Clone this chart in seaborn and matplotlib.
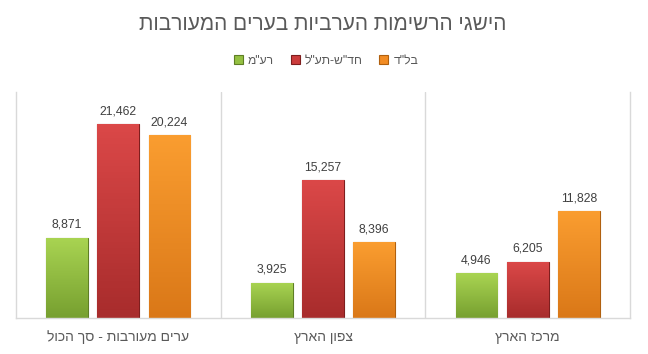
import numpy as np
import pandas as pd
import matplotlib
matplotlib.use("Agg")
import matplotlib.pyplot as plt
import seaborn as sns
from matplotlib.colors import LinearSegmentedColormap
from matplotlib.patches import Patch

# ---- data (logical Hebrew order) ----
title = "הישגי הרשימות הערביות בערים המעורבות"
categories = ["ערים מעורבות - סך הכול", "צפון הארץ", "מרכז הארץ"]
series = ['רע"מ', 'חד"ש-תע"ל', 'בל"ד']
raam = [8871, 3925, 4946]
hadash = [21462, 15257, 6205]
balad = [20224, 8396, 11828]

colors = ["#94C042", "#CC3C3C", "#F28C24"]
tops = ["#A9D452", "#DB4848", "#FA9D30"]
bottoms = ["#77A030", "#A82C2C", "#DA7818"]
edges = ["#5E7E25", "#7E1E1E", "#B0600F"]


def rtl(s):
    return s[::-1]


df = pd.DataFrame({
    "category": [rtl(c) for c in categories] * 3,
    "series": [rtl(s) for s in series for _ in categories],
    "value": raam + hadash + balad,
})

sns.set_theme(style="white")
plt.rcParams['font.family'] = ['Liberation Sans', 'DejaVu Sans']

fig = plt.figure(figsize=(6.48, 3.54), dpi=100)
ax = fig.add_axes([16 / 648, 1 - 318 / 354, (630 - 16) / 648, (318 - 92) / 354])

sns.barplot(data=df, x="category", y="value", hue="series", palette=colors,
            width=0.75, gap=0.18, saturation=1, ax=ax, legend=False)

# gradient fill on each bar
for i, cont in enumerate(ax.containers):
    cmap = LinearSegmentedColormap.from_list("g%d" % i, [bottoms[i], tops[i]])
    grad = np.linspace(0, 1, 64).reshape(-1, 1)
    for p in cont.patches:
        x, w, h = p.get_x(), p.get_width(), p.get_height()
        p.set_edgecolor(edges[i])
        p.set_linewidth(0.8)
        im = ax.imshow(grad, extent=[x, x + w, 0, h], origin="lower", aspect="auto",
                       cmap=cmap, zorder=p.get_zorder() + 0.1)
        im.set_clip_path(p)
    ax.bar_label(cont, fmt="{:,.0f}", padding=5, fontsize=8.8, color="#404040")

ax.set_xlim(-0.5, 2.5)
ax.set_ylim(0, 25000)
ax.set_xlabel("")
ax.set_ylabel("")
ax.set_yticks([])
ax.tick_params(axis="x", length=0, labelsize=10, labelcolor="#595959", pad=9)

for xv in [0.5, 1.5]:
    ax.axvline(xv, color="#D9D9D9", lw=1, zorder=0)
for side in ["left", "right", "bottom"]:
    ax.spines[side].set_color("#D9D9D9")
    ax.spines[side].set_linewidth(1)
ax.spines["top"].set_visible(False)

fig.text(0.498, 1 - 25 / 354, rtl(title), ha="center", va="center",
         fontsize=15, color="#595959")

handles = [Patch(facecolor=colors[i], edgecolor=edges[i], linewidth=0.8) for i in range(3)]
fig.legend(handles, [rtl(s) for s in series], loc="center",
           bbox_to_anchor=(0.503, 1 - 61 / 354), ncol=3, frameon=False,
           fontsize=8.7, handlelength=0.75, handleheight=0.75,
           handletextpad=0.4, columnspacing=1.4, labelcolor="#595959")

fig.savefig("out.png", dpi=100)
